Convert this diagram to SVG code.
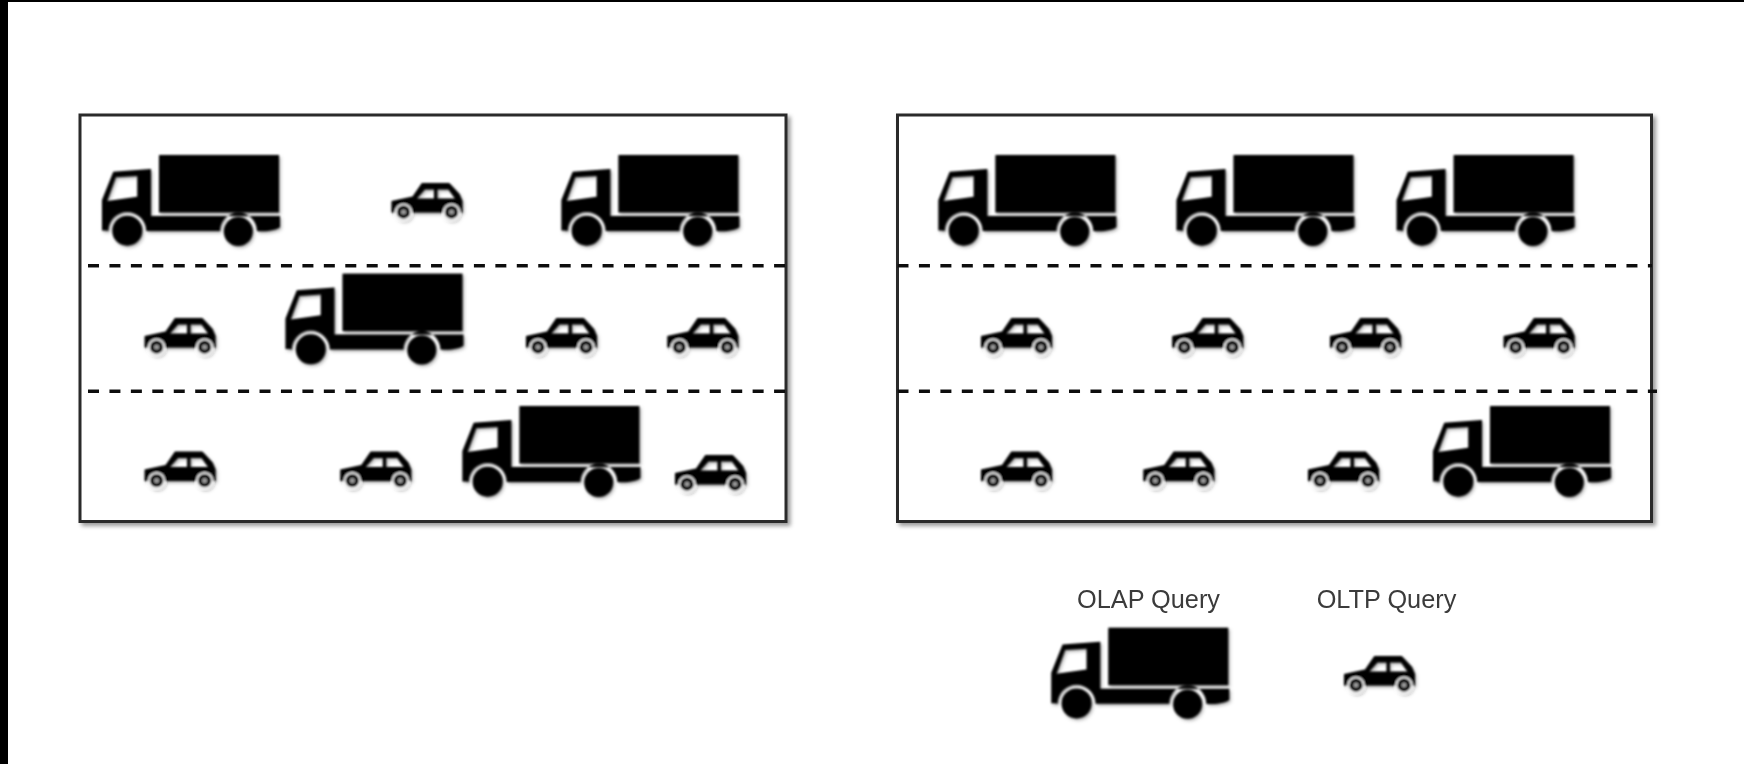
<svg xmlns="http://www.w3.org/2000/svg" xmlns:xlink="http://www.w3.org/1999/xlink" width="1744" height="764" viewBox="0 0 1744 764">
<style>
.frame{fill:#fff;stroke:#2a2a2a;stroke-width:3;filter:url(#fs)}
.lane{fill:none;stroke:#111;stroke-width:3.4;stroke-dasharray:11 10.44;filter:url(#soft)}
.lbl{font-family:"Liberation Sans",Arial,sans-serif;font-size:25.3px;fill:#3a3a3a;text-anchor:middle;filter:url(#soft)}
</style>
<defs>
<filter id="soft" x="-2%" y="-50%" width="104%" height="200%"><feGaussianBlur stdDeviation=".55"/></filter>
<filter id="fs" x="-5%" y="-5%" width="110%" height="110%"><feGaussianBlur in="SourceGraphic" stdDeviation=".7" result="b"/><feDropShadow in="b" dx="3" dy="3" stdDeviation="2" flood-color="#000" flood-opacity=".4"/></filter>
<filter id="ss" x="-10%" y="-10%" width="125%" height="130%"><feGaussianBlur in="SourceGraphic" stdDeviation=".8" result="b"/><feDropShadow in="b" dx="1.5" dy="2" stdDeviation="1.5" flood-color="#000" flood-opacity=".3"/></filter>
<g id="truck" filter="url(#ss)">
<rect x="0" y="0" width="120" height="57.5" fill="#000"/>
<path fill="#000" fill-rule="evenodd" d="M-57 45L-45.7 16.7L-8 14V61H121V72C118 75 108 77 98 76A18.5 18.5 0 0 0 61 76H-12.7A19 19 0 0 0 -50.7 76L-53 75.5H-57ZM-43 22.3L-21.7 21V41.7L-51.7 46Z"/>
<circle cx="-31.7" cy="75.7" r="15" fill="#000"/>
<circle cx="79.3" cy="76.5" r="14.5" fill="#000"/>
</g>
<g id="car" filter="url(#ss)">
<path fill="#000" fill-rule="evenodd" d="M0 18L21 13.5L30.3 0H57.7L68 11L71 18V29.5H0ZM25.5 15.5L33.5 6.5H42.5V15.5ZM46 6.5H57L63.5 15.5H46Z"/>
<circle cx="12" cy="29" r="8.6" fill="#fff"/>
<circle cx="60" cy="29" r="8.6" fill="#fff"/>
<circle cx="12" cy="29" r="6.8" fill="#000"/>
<circle cx="12" cy="29" r="2.6" fill="#999"/>
<circle cx="60" cy="29" r="6.8" fill="#000"/>
<circle cx="60" cy="29" r="2.6" fill="#999"/>
</g>
</defs>
<rect id="background" width="1744" height="764" fill="#fff"/>
<rect id="edge-left" width="8" height="764" fill="#000"/>
<rect id="edge-top" width="1744" height="2" fill="#000"/>
<g id="left-frame"><rect class="frame" x="80" y="115" width="706" height="406.5"/></g>
<g id="right-frame"><rect class="frame" x="897.5" y="115" width="754" height="406.5"/></g>
<g id="connectors">
<path class="lane" d="M88 265.7H786M88 391.3H786"/>
<path class="lane" d="M897.5 265.7H1652M897.5 391.3H1657"/>
</g>
<g id="left-r1-truck1"><use href="#truck" x="159" y="155"/></g>
<g id="left-r1-car1"><use href="#car" x="391.5" y="183"/></g>
<g id="left-r1-truck2"><use href="#truck" x="618.4" y="155"/></g>
<g id="left-r2-car1"><use href="#car" x="144.6" y="318"/></g>
<g id="left-r2-truck1"><use href="#truck" x="342.5" y="273.6"/></g>
<g id="left-r2-car2"><use href="#car" x="526" y="318"/></g>
<g id="left-r2-car3"><use href="#car" x="667.3" y="318"/></g>
<g id="left-r3-car1"><use href="#car" x="144.6" y="451.5"/></g>
<g id="left-r3-car2"><use href="#car" x="340.3" y="451.5"/></g>
<g id="left-r3-truck1"><use href="#truck" x="519.4" y="406"/></g>
<g id="left-r3-car3"><use href="#car" x="675" y="455"/></g>
<g id="right-r1-truck1"><use href="#truck" x="995.4" y="155"/></g>
<g id="right-r1-truck2"><use href="#truck" x="1233.5" y="155"/></g>
<g id="right-r1-truck3"><use href="#truck" x="1453.6" y="155"/></g>
<g id="right-r2-car1"><use href="#car" x="981" y="318"/></g>
<g id="right-r2-car2"><use href="#car" x="1172.2" y="318"/></g>
<g id="right-r2-car3"><use href="#car" x="1330" y="318"/></g>
<g id="right-r2-car4"><use href="#car" x="1503.6" y="318"/></g>
<g id="right-r3-car1"><use href="#car" x="981" y="451.5"/></g>
<g id="right-r3-car2"><use href="#car" x="1143.3" y="451.5"/></g>
<g id="right-r3-car3"><use href="#car" x="1308" y="451.5"/></g>
<g id="right-r3-truck1"><use href="#truck" x="1490" y="406"/></g>
<g id="legend-olap"><text class="lbl" x="1148.5" y="608">OLAP Query</text><use href="#truck" x="1108.3" y="627.7"/></g>
<g id="legend-oltp"><text class="lbl" x="1386.5" y="608">OLTP Query</text><use href="#car" x="1344" y="656"/></g>
</svg>
